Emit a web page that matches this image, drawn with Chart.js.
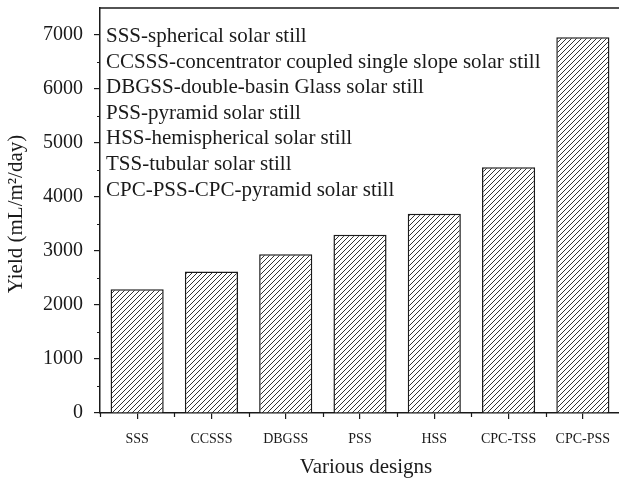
<!DOCTYPE html>
<html>
<head>
<meta charset="utf-8">
<script src="https://cdn.jsdelivr.net/npm/chart.js@4/dist/chart.umd.min.js"></script>
<style>
  html, body { margin: 0; padding: 0; background: #fff; overflow: hidden; }
  canvas { display: block; }
</style>
</head>
<body>
<canvas id="chart" width="625" height="478"></canvas>
<script>
// Categories and yield values (mL/m2/day)
const designs = ['SSS', 'CCSSS', 'DBGSS', 'PSS', 'HSS', 'CPC-TSS', 'CPC-PSS'];
const yields = [2290, 2620, 2940, 3300, 3690, 4550, 6960];

// Y axis: range, labelled ticks and minor ticks
const yMin = 0;
const yMax = 7500;
const yTicks = [0, 1000, 2000, 3000, 4000, 5000, 6000, 7000];
const yMinorTicks = [500, 1500, 2500, 3500, 4500, 5500, 6500];

// Text block shown inside the plot
const notes = [
    'SSS-spherical solar still',
    'CCSSS-concentrator coupled single slope solar still',
    'DBGSS-double-basin Glass solar still',
    'PSS-pyramid solar still',
    'HSS-hemispherical solar still',
    'TSS-tubular solar still',
    'CPC-PSS-CPC-pyramid solar still'
];

const serif = '"Liberation Serif", "DejaVu Serif", serif';
const ink = '#1a1a1a';

// Diagonal hatch pattern for the bars
function makeHatch() {
    const s = 5;
    const c = document.createElement('canvas');
    c.width = s;
    c.height = s;
    const g = c.getContext('2d');
    g.fillStyle = '#fff';
    g.fillRect(0, 0, s, s);
    g.strokeStyle = '#333';
    g.lineWidth = 1;
    g.beginPath();
    g.moveTo(-1, s + 1); g.lineTo(s + 1, -1);
    g.moveTo(-1, 1); g.lineTo(1, -1);
    g.moveTo(s - 1, s + 1); g.lineTo(s + 1, s - 1);
    g.stroke();
    return g.createPattern(c, 'repeat');
}

const ctx = document.getElementById('chart').getContext('2d');

// Minor ticks, top frame line, notes and axis titles
const extras = {
    id: 'extras',
    afterDraw(chart) {
        const g = chart.ctx;
        const area = chart.chartArea;
        const x = chart.scales.x;
        const y = chart.scales.y;
        g.save();
        g.strokeStyle = ink;
        g.lineWidth = 1.2;
        g.beginPath();
        yMinorTicks.forEach(v => {
            const py = Math.round(y.getPixelForValue(v)) + 0.5;
            g.moveTo(area.left - 3, py);
            g.lineTo(area.left, py);
        });
        for (let i = 0; i <= designs.length; i++) {
            const px = Math.round(x.getPixelForValue(i - 0.5)) + 0.5;
            g.moveTo(px, area.bottom);
            g.lineTo(px, area.bottom + 4);
        }
        g.stroke();

        // top frame
        g.lineWidth = 1.5;
        g.beginPath();
        g.moveTo(area.left, area.top);
        g.lineTo(chart.width, area.top);
        g.stroke();

        g.fillStyle = ink;
        g.font = '21px ' + serif;
        g.textAlign = 'left';
        g.textBaseline = 'alphabetic';
        notes.forEach((t, i) => g.fillText(t, 106, 42 + i * 25.6));

        g.textAlign = 'center';
        g.textBaseline = 'middle';
        g.fillText('Various designs', 366, 467);

        g.translate(16, 214);
        g.rotate(-Math.PI / 2);
        g.fillText('Yield (mL/m\u00B2/day)', 0, 0);
        g.restore();
    }
};

new Chart(ctx, {
    type: 'bar',
    data: {
        labels: designs,
        datasets: [{
            data: yields,
            backgroundColor: makeHatch(),
            borderColor: ink,
            borderWidth: 1.5,
            categoryPercentage: 1,
            barPercentage: 0.715
        }]
    },
    options: {
        responsive: false,
        animation: false,
        layout: { padding: { top: 8, right: 5, left: 0, bottom: 0 } },
        plugins: {
            legend: { display: false },
            tooltip: { enabled: false }
        },
        scales: {
            x: {
                afterFit(scale) {
                    scale.height = 65;
                    scale.paddingLeft = 0;
                    scale.paddingRight = 0;
                },
                grid: {
                    offset: false,
                    drawOnChartArea: false,
                    drawTicks: true,
                    tickLength: 6,
                    color: ink,
                    lineWidth: 1.2
                },
                border: { display: true, color: ink, width: 1.5 },
                ticks: {
                    color: ink,
                    padding: 12,
                    maxRotation: 0,
                    autoSkip: false,
                    font: { family: serif, size: 14 }
                }
            },
            y: {
                min: yMin,
                max: yMax,
                afterBuildTicks(scale) {
                    scale.ticks = yTicks.map(v => ({ value: v }));
                },
                afterFit(scale) {
                    scale.width = 100;
                    scale.paddingTop = 0;
                    scale.paddingBottom = 0;
                },
                grid: {
                    drawOnChartArea: false,
                    drawTicks: true,
                    tickLength: 6,
                    lineWidth: 1.2,
                    color: ink
                },
                border: { display: true, color: ink, width: 1.5 },
                ticks: {
                    autoSkip: false,
                    color: ink,
                    padding: 11,
                    font: { family: serif, size: 20 },
                    callback: v => String(v)
                }
            }
        }
    },
    plugins: [extras]
});
</script>
</body>
</html>
